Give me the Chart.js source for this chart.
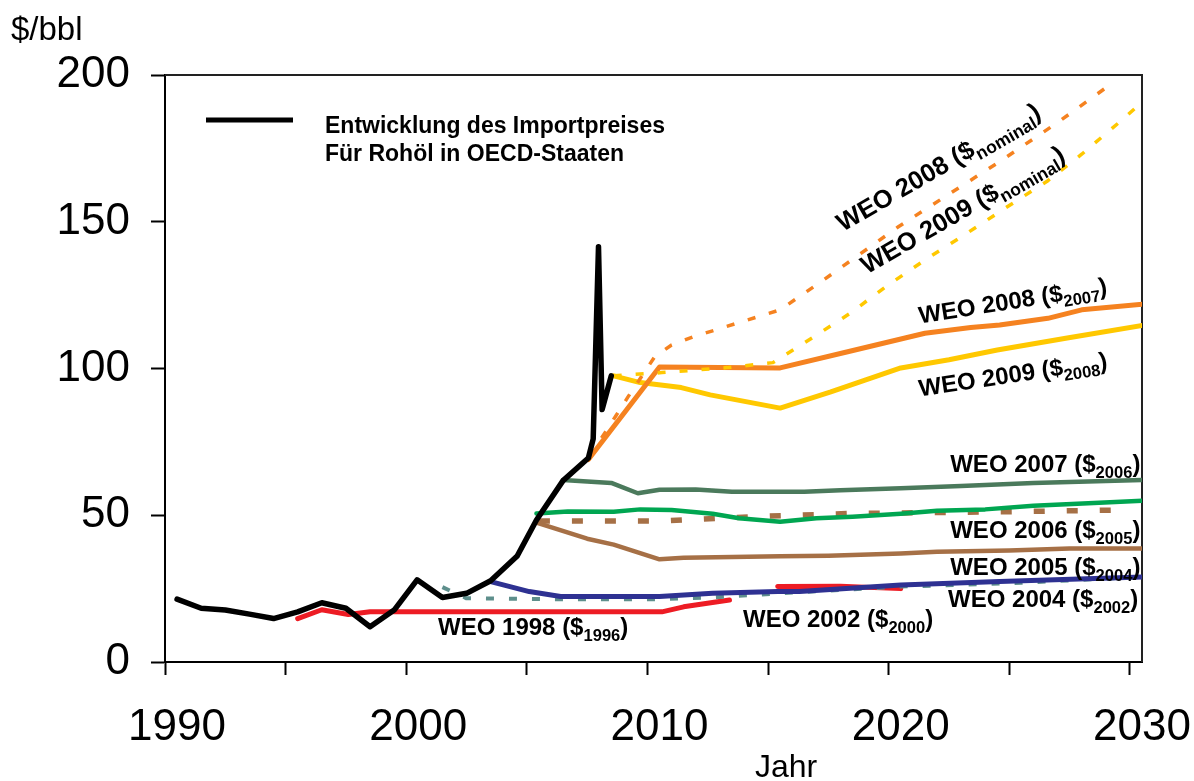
<!DOCTYPE html>
<html>
<head>
<meta charset="utf-8">
<script src="https://cdn.jsdelivr.net/npm/chart.js@4.4.0/dist/chart.umd.min.js"></script>
<style>
  html, body { margin: 0; padding: 0; background: #fff; }
  #wrap { width: 1194px; height: 781px; }
</style>
</head>
<body>
<div id="wrap"><canvas id="oilChart" width="1194" height="781"></canvas></div>
<script>
// Import price for crude oil in OECD countries (actual)
const priceYears = [1990.5, 1991.5, 1992.5, 1993.5, 1994.5, 1995.5, 1996.5, 1997.5, 1998.5, 1999.5, 2000.45, 2001.5, 2002.5, 2003.5, 2004.6, 2005.4, 2006.5, 2007.55, 2007.75, 2007.97, 2008.12, 2008.5];
const priceValues = [21.4, 18.3, 17.7, 16.3, 14.8, 17.1, 20.2, 18.3, 12.0, 17.7, 28.0, 22.0, 23.4, 27.7, 36.1, 48.4, 61.8, 69.5, 76, 141.5, 86, 97.5];

// WEO projections
const weo1998Years = [1995.5, 1996.5, 1997.6, 1998.5, 2005, 2010.6, 2011.5, 2013.4, 2014.3, 2015.4, 2018, 2020.5];
const weo1998Values = [14.8, 17.8, 16.2, 17.1, 17.1, 17.1, 18.8, 21.1, null, 25.7, 25.8, 25];

const weo2002Years = [2001.5, 2002.5, 2006.4, 2010.5, 2012.7, 2015.5, 2020.5, 2025.5, 2030.5];
const weo2002Values = [25.5, 21.7, 21.4, 21.4, 22, 23.4, 25.7, 27, 29];

const weo2004Years = [2003.5, 2005.1, 2006.4, 2010.5, 2012.7, 2015.4, 2016.3, 2020.5, 2024.6, 2030.6];
const weo2004Values = [27.4, 24, 22.3, 22.3, 23.4, 24, 24, 26.2, 27.4, 29];

const weo2005Years = [2005.4, 2007.5, 2008.6, 2010.5, 2011.5, 2015.5, 2017.5, 2020.5, 2022, 2025, 2027.5, 2030.6];
const weo2005Values = [47.5, 42, 40, 35, 35.5, 36, 36.2, 37, 37.6, 38, 38.7, 38.7];

const weo2006Years = [2005.4, 2006.7, 2008.6, 2009.7, 2011, 2012.7, 2013.8, 2015.5, 2017, 2018.5, 2020.5, 2022, 2024, 2026, 2028.5, 2030.6];
const weo2006Values = [50.6, 51.3, 51.2, 52, 51.8, 50.5, 49, 47.8, 49, 49.5, 50.5, 51.5, 52, 53.2, 54.2, 55];

const weo2006bYears = [2005.5, 2010.5, 2014.3, 2018.4, 2025, 2029.8];
const weo2006bValues = [48, 48, 49.5, 50.6, 51.2, 51.8];

const weo2007Years = [2006.5, 2008.5, 2009.6, 2010.5, 2012, 2013.5, 2016.5, 2018, 2020.5, 2023, 2026, 2030.6];
const weo2007Values = [62, 61, 57.5, 58.7, 58.8, 58, 58, 58.5, 59.2, 60, 61, 62];

const weo2008Years = [2007.55, 2010.5, 2015.5, 2018.3, 2021.5, 2023.4, 2024.6, 2026.6, 2028, 2030.6];
const weo2008Values = [69, 100.5, 100.2, 105.7, 112, 114, 114.8, 117.1, 120, 122];

const weo2008nYears = [2007.6, 2008.7, 2009.2, 2010.3, 2011, 2011.9, 2015.5, 2017.2, 2020.4, 2024.6, 2027, 2029.4];
const weo2008nValues = [70, 84, 90.4, 104, 108, 110.8, 120, 129.6, 148.3, 170.5, 183.8, 198];

const weo2009Years = [2008.6, 2009.7, 2011.4, 2012.6, 2015.5, 2017.6, 2020.5, 2022.5, 2024.5, 2027.4, 2030.6];
const weo2009Values = [97.5, 95.2, 93.5, 91, 86.5, 92, 100.2, 103, 106.3, 110.4, 114.8];

const weo2009nYears = [2008.6, 2010.6, 2013.3, 2015.2, 2016.9, 2018.4, 2019.9, 2021.6, 2023.3, 2024.9, 2026.6, 2028, 2029.5, 2030.4];
const weo2009nValues = [97.5, 98.6, 100.3, 102, 110.8, 118.8, 128, 137.5, 146.4, 155, 164, 173, 183.5, 190];

const yTicks = [0, 50, 100, 150, 200];

// text labels: [text, subscript, year, value, angle, font size]
const seriesLabels = [
  ["WEO 2008", "nominal", 2018.1, 146.5, -30, 25.5],
  ["WEO 2009", "nominal", 2019.1, 132.0, -30, 25.5],
  ["WEO 2008", "2007", 2021.3, 115.3, -9, 24],
  ["WEO 2009", "2008", 2021.3, 90.5, -8.5, 24],
  ["WEO 2007", "2006", 2022.55, 64.7, 0, 24],
  ["WEO 2006", "2005", 2022.55, 42.2, 0, 24],
  ["WEO 2005", "2004", 2022.55, 29.6, 0, 24],
  ["WEO 2004", "2002", 2022.46, 18.7, 0, 24],
  ["WEO 2002", "2000", 2013.96, 11.9, 0, 24],
  ["WEO 1998", "1996", 2001.32, 9.2, 0, 24]
];

const FONT = '"Liberation Sans", Arial, sans-serif';

function pts(xs, ys) {
  return xs.map((x, i) => ({ x: x, y: ys[i] }));
}

function line(data, color, width, dash) {
  return {
    data: data,
    borderColor: color,
    borderWidth: width,
    borderDash: dash || [],
    pointRadius: 0,
    tension: 0,
    fill: false,
    spanGaps: false,
    borderJoinStyle: "round",
    borderCapStyle: dash ? "butt" : "round"
  };
}

function drawWeoLabel(ctx, x, y, angle, main, sub, size) {
  const subSize = size * 0.69;
  ctx.save();
  ctx.translate(x, y);
  ctx.rotate(angle * Math.PI / 180);
  ctx.textAlign = "left";
  ctx.textBaseline = "alphabetic";
  ctx.fillStyle = "#000";
  ctx.font = "bold " + size + "px " + FONT;
  const head = main + " ($";
  ctx.fillText(head, 0, 0);
  let dx = ctx.measureText(head).width;
  ctx.font = "bold " + subSize + "px " + FONT;
  ctx.fillText(sub, dx, size * 0.25);
  dx += ctx.measureText(sub).width;
  ctx.font = "bold " + size + "px " + FONT;
  ctx.fillText(")", dx, 0);
  ctx.restore();
}

const decorPlugin = {
  id: "decor",
  beforeDatasetsDraw(chart) {
    const ctx = chart.ctx;
    const a = chart.chartArea;
    ctx.save();
    ctx.strokeStyle = "#222";
    ctx.lineWidth = 2;
    ctx.beginPath();
    ctx.moveTo(a.left, a.top);
    ctx.lineTo(a.right, a.top);
    ctx.lineTo(a.right, a.bottom);
    ctx.stroke();
    ctx.restore();
  },
  afterDraw(chart) {
    const ctx = chart.ctx;
    const xs = chart.scales.x;
    const ys = chart.scales.y;
    ctx.save();
    // legend
    ctx.strokeStyle = "#000";
    ctx.lineWidth = 5;
    ctx.lineCap = "butt";
    ctx.beginPath();
    ctx.moveTo(206, 120);
    ctx.lineTo(293, 120);
    ctx.stroke();
    ctx.fillStyle = "#000";
    ctx.textAlign = "left";
    ctx.textBaseline = "alphabetic";
    ctx.font = "bold 23px " + FONT;
    ctx.fillText("Entwicklung des Importpreises", 325, 133);
    ctx.fillText("Für Rohöl in OECD-Staaten", 325, 161);
    // axis titles
    ctx.font = "33px " + FONT;
    ctx.fillText("$/bbl", 11, 40);
    ctx.font = "32px " + FONT;
    ctx.textAlign = "center";
    ctx.fillText("Jahr", 786, 777);
    ctx.restore();
    seriesLabels.forEach(l => {
      drawWeoLabel(ctx, xs.getPixelForValue(l[2]), ys.getPixelForValue(l[3]), l[4], l[0], l[1], l[5]);
    });
  }
};

new Chart(document.getElementById("oilChart"), {
  type: "line",
  data: {
    datasets: [
      line(pts(priceYears, priceValues), "#000000", 5.5),
      line(pts(weo2009nYears, weo2009nValues), "#ffc800", 3.5, [8, 14]),
      line(pts(weo2008nYears, weo2008nValues), "#f58220", 3.5, [8, 14]),
      line(pts(weo2008Years, weo2008Values), "#f58220", 5),
      line(pts(weo2009Years, weo2009Values), "#ffc800", 5),
      line(pts(weo2007Years, weo2007Values), "#4b7a5c", 4.5),
      line(pts(weo2006Years, weo2006Values), "#00a651", 4.5),
      line(pts(weo2006bYears, weo2006bValues), "#a67046", 5.5, [11, 22]),
      line(pts(weo2005Years, weo2005Values), "#a67046", 4.5),
      line(pts(weo2004Years, weo2004Values), "#2e3192", 5),
      line(pts(weo2002Years, weo2002Values), "#5e8f8c", 4, [8, 15]),
      line(pts(weo1998Years, weo1998Values), "#ed1c24", 5)
    ]
  },
  options: {
    responsive: false,
    animation: false,
    devicePixelRatio: 1,
    layout: { padding: { top: 75, right: 52, left: 0, bottom: 0 } },
    plugins: { legend: { display: false }, tooltip: { enabled: false } },
    scales: {
      x: {
        type: "linear",
        min: 1990,
        max: 2030.5,
        afterFit: s => { s.height = 119; s.paddingLeft = 0; s.paddingRight = 0; },
        border: { display: true, color: "#000", width: 2 },
        grid: { drawOnChartArea: false, drawTicks: true, tickLength: 13, tickColor: "#000", tickWidth: 2 },
        ticks: {
          stepSize: 5,
          includeBounds: false,
          autoSkip: false,
          maxRotation: 0,
          labelOffset: 12,
          padding: 26,
          color: "#000",
          font: { family: FONT, size: 44 },
          callback: v => (v % 10 === 0 ? String(v) : "")
        }
      },
      y: {
        min: 0,
        max: 200,
        afterFit: s => { s.width = 165; s.paddingTop = 0; s.paddingBottom = 0; },
        afterBuildTicks: s => { s.ticks = yTicks.map(v => ({ value: v })); },
        border: { display: true, color: "#000", width: 2 },
        grid: { drawOnChartArea: false, drawTicks: true, tickLength: 14, tickColor: "#000", tickWidth: 2 },
        ticks: {
          padding: 21,
          color: "#000",
          font: { family: FONT, size: 44 },
          callback: v => String(v)
        }
      }
    }
  },
  plugins: [decorPlugin]
});
</script>
</body>
</html>
